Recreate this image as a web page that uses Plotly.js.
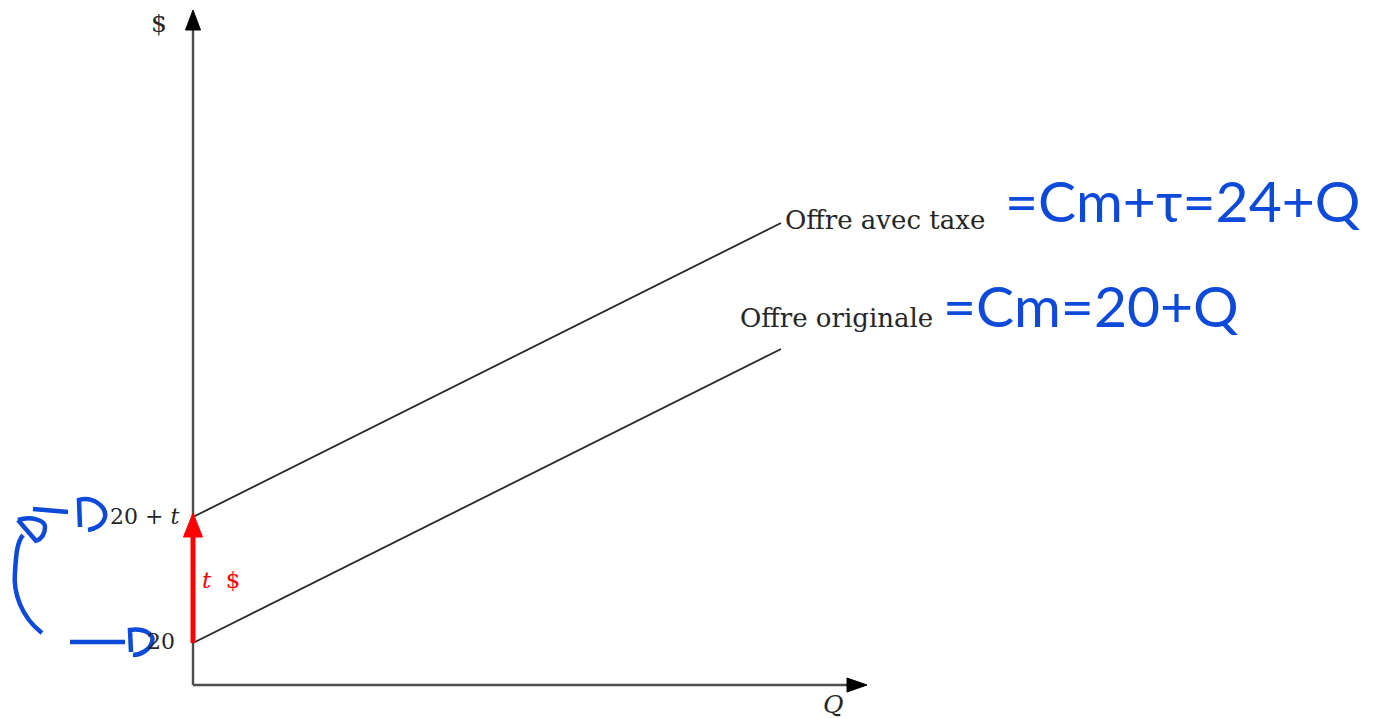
<!DOCTYPE html>
<html>
<head>
<meta charset="utf-8">
<script src="https://cdn.plot.ly/plotly-3.0.1.min.js"></script>
<style>
  html, body { margin: 0; padding: 0; background: #fff; }
  #chart { width: 1374px; height: 718px; }
</style>
</head>
<body>
<div id="chart"></div>
<script>
// Supply curves before and after a per-unit tax t (diagram units)
const quantity = [0, 7];
const supplyOriginal = [0.5, 4];
const supplyWithTax = [2, 5.5];
const axisLength = 8;

// Price-axis tick marks
const tickVals = [0.5, 2];
const tickText = ['20', '20 + <i>t</i>'];

// Curve labels and the handwritten marginal-cost notes
const curveLabels = ['Offre originale', 'Offre avec taxe'];
const costNotes = ['=Cm=20+Q', '=Cm+τ=24+Q'];
const taxLabel = '<i>t</i>  $';

// Canvas mapping: origin position and scale in pixels per unit
const W = 1374, H = 718;
const originX = 193, originY = 685, ppu = 84;

const ink = '#262626';
const axisInk = '#4d4d4d';
const red = '#ff0000';
const blue = '#0d4ad9';
const serif = 'DejaVu Serif, serif';
const hand = 'Lato, sans-serif';

const traces = [
  // axes
  { x: [0, 0], y: [0, axisLength - 0.05], mode: 'lines', line: { color: axisInk, width: 2.4 } },
  { x: [0, axisLength - 0.05], y: [0, 0], mode: 'lines', line: { color: axisInk, width: 2.4 } },
  // supply curves
  { x: quantity, y: supplyOriginal, mode: 'lines', line: { color: ink, width: 1.8 } },
  { x: quantity, y: supplyWithTax, mode: 'lines', line: { color: ink, width: 1.8 } },
  // tax shift arrow shaft
  { x: [0, 0], y: [supplyOriginal[0], supplyWithTax[0] - 16 / ppu], mode: 'lines', line: { color: red, width: 5 } }
].map(t => Object.assign(t, { hoverinfo: 'skip', showlegend: false }));

// Pixel-sized path anchored at a data point (y positive = up)
function pixelPath(xa, ya, path, opts) {
  return Object.assign({
    type: 'path', xref: 'x', yref: 'y',
    xsizemode: 'pixel', ysizemode: 'pixel',
    xanchor: xa, yanchor: ya, path: path
  }, opts);
}
const filled = c => ({ fillcolor: c, line: { color: c, width: 1 } });
const stroke = { fillcolor: 'rgba(0,0,0,0)', line: { color: blue, width: 4.5 } };

const shapes = [
  // arrowheads of the axes
  pixelPath(0, axisLength, 'M0,3 L-7.5,-17 L7.5,-17 Z', filled('#000')),
  pixelPath(axisLength, 0, 'M2,0 L-18,7 L-18,-7 Z', filled('#000')),
  // tax arrow head
  pixelPath(0, supplyWithTax[0], 'M0,4 L-9.5,-20 L9.5,-20 Z', filled(red)),
  // handwritten arrows to the tick labels
  pixelPath(0, tickVals[1], 'M-160,8 L-125,5', stroke),
  pixelPath(0, tickVals[1], 'M-113,-10 L-114,17 C-100,21 -86,10 -88,0 C-90,-8 -98,-12 -105,-13', stroke),
  pixelPath(0, tickVals[0], 'M-123,1 L-68,1', stroke),
  pixelPath(0, tickVals[0], 'M-62,-9 L-63,13 C-48,15 -38,8 -41,1 C-43,-7 -53,-12 -60,-12', stroke),
  // handwritten bracket linking the two prices
  pixelPath(0, tickVals[1], 'M-151,-116 C-172,-100 -180,-75 -178,-55 C-177,-38 -176,-25 -170,-18', stroke),
  pixelPath(0, tickVals[1], 'M-175,-3 L-156,-25 M-175,-3 C-162,1 -148,-3 -148,-10 C-148,-18 -152,-22 -157,-24', stroke)
];

function note(x, y, text, o) {
  return Object.assign({ x: x, y: y, xref: 'x', yref: 'y', text: text, showarrow: false }, o);
}

const annotations = [
  note(0, axisLength, '$', { xanchor: 'right', yanchor: 'middle', xshift: -24, yshift: -10,
    font: { family: serif, size: 25, color: ink } }),
  note(axisLength, 0, '<i>Q</i>', { xanchor: 'center', yanchor: 'middle', xshift: -32, yshift: -19,
    font: { family: serif, size: 25, color: ink } }),
  note(0, tickVals[0], tickText[0], { xanchor: 'right', yanchor: 'middle', xshift: -16, yshift: 2,
    font: { family: serif, size: 22, color: ink } }),
  note(0, tickVals[1], tickText[1], { xanchor: 'right', yanchor: 'middle', xshift: -12, yshift: 1,
    font: { family: serif, size: 22, color: ink } }),
  note(0, (supplyOriginal[0] + supplyWithTax[0]) / 2, taxLabel, { xanchor: 'left', yanchor: 'middle', xshift: 7,
    font: { family: serif, size: 23, color: red } }),
  note(quantity[1], supplyWithTax[1], curveLabels[1], { xanchor: 'left', yanchor: 'middle', xshift: 2, yshift: 3,
    font: { family: serif, size: 26, color: ink } }),
  note(quantity[1], supplyOriginal[1], curveLabels[0], { xanchor: 'center', yanchor: 'middle', xshift: 55, yshift: 31,
    font: { family: serif, size: 26, color: ink } }),
  note(quantity[1], supplyWithTax[1], costNotes[1], { xanchor: 'left', yanchor: 'middle', xshift: 222, yshift: 23,
    font: { family: hand, size: 57, color: blue } }),
  note(quantity[1], supplyOriginal[1], costNotes[0], { xanchor: 'left', yanchor: 'middle', xshift: 160, yshift: 44,
    font: { family: hand, size: 57, color: blue } })
];

const hiddenAxis = { visible: false, showgrid: false, zeroline: false, fixedrange: true };

const layout = {
  width: W, height: H,
  margin: { l: 0, r: 0, t: 0, b: 0 },
  paper_bgcolor: '#fff', plot_bgcolor: '#fff',
  xaxis: Object.assign({ range: [-originX / ppu, (W - originX) / ppu] }, hiddenAxis),
  yaxis: Object.assign({ range: [-(H - originY) / ppu, originY / ppu] }, hiddenAxis),
  shapes: shapes,
  annotations: annotations,
  showlegend: false
};

Plotly.newPlot('chart', traces, layout, { displayModeBar: false, staticPlot: true });
</script>
</body>
</html>
